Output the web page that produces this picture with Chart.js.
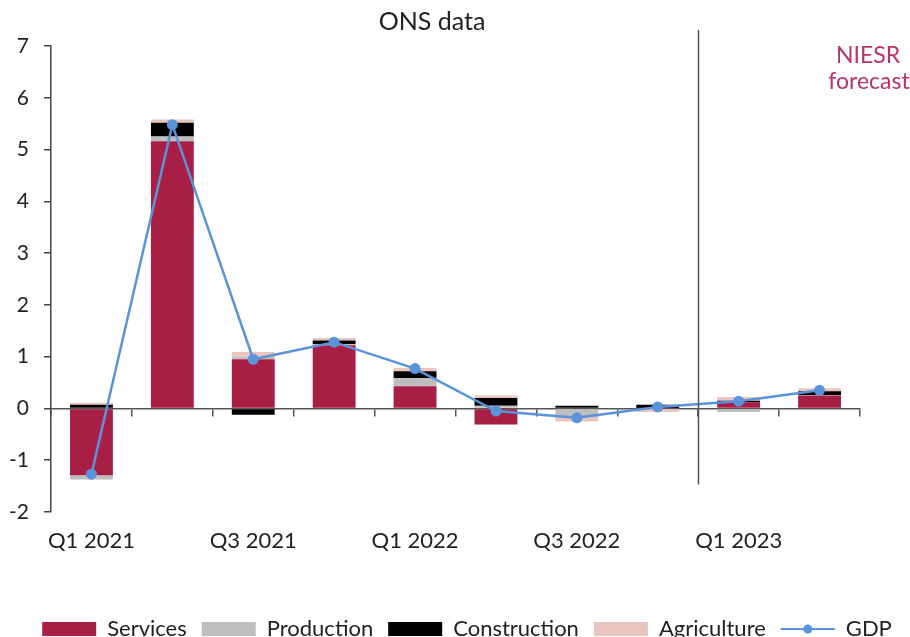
<!DOCTYPE html>
<html>
<head>
<meta charset="utf-8">
<script src="https://cdn.jsdelivr.net/npm/chart.js@4/dist/chart.umd.min.js"></script>
<style>
  html, body { margin: 0; padding: 0; background: #fff; overflow: hidden; }
  #wrap { width: 910px; height: 650px; }
</style>
</head>
<body>
<div id="wrap"><canvas id="canvas"></canvas></div>
<script>
// quarters on the x axis
const trimestres = ["Q1 2021", "Q2 2021", "Q3 2021", "Q4 2021", "Q1 2022", "Q2 2022", "Q3 2022", "Q4 2022", "Q1 2023", "Q2 2023"];
// contributions to growth (% points)
const services     = [-1.29, 5.16, 0.95, 1.22, 0.43, -0.31, 0.00, 0.01, 0.12, 0.25];
const production   = [-0.08, 0.09, 0.05, 0.02, 0.16, 0.05, -0.18, 0.00, -0.07, 0.01];
const construction = [0.07, 0.27, -0.12, 0.07, 0.13, 0.15, 0.05, 0.06, 0.03, 0.07];
const agriculture  = [0.04, 0.06, 0.09, 0.05, 0.06, 0.05, -0.07, -0.07, 0.07, 0.06];
const gdp          = [-1.27, 5.48, 0.95, 1.28, 0.77, -0.05, -0.18, 0.03, 0.14, 0.35];
const ticksY = [-2, 7];
const fuente = "Lato";

const colores = {
    services: "#A81F45",
    production: "#BEBEBE",
    construction: "#000000",
    agriculture: "#EAC5BF",
    gdp: "#5A93DA"
};

function barra(label, data, color){
    return {
        type: "bar",
        label: label,
        data: data,
        backgroundColor: color,
        borderWidth: 0,
        stack: "componentes",
        order: 1,
        barPercentage: 0.53,
        categoryPercentage: 1
    };
}

// vertical line + texts
const anotaciones = {
    id: "anotaciones",
    afterDatasetsDraw(chart){
        const ctx = chart.ctx;
        const x = chart.scales.x;
        const y = chart.scales.y;
        const xl = Math.round(x.getPixelForValue(7.5)) + 0.5;
        ctx.save();
        ctx.strokeStyle = "#555";
        ctx.lineWidth = 1.5;
        ctx.beginPath();
        ctx.moveTo(xl, y.getPixelForValue(7.31));
        ctx.lineTo(xl, y.getPixelForValue(-1.47));
        ctx.stroke();
        ctx.textAlign = "center";
        ctx.textBaseline = "middle";
        ctx.fillStyle = "#222";
        ctx.font = "25px " + fuente;
        ctx.fillText("ONS data", 432, 22);
        ctx.fillStyle = "#B8336A";
        ctx.font = "23px " + fuente;
        ctx.fillText("NIESR", 868, 56);
        ctx.fillText("forecast", 869, 82);
        ctx.restore();
    },
    afterDraw(chart){
        // dot on the GDP legend line
        const leg = chart.legend;
        if (!leg || !leg.legendHitBoxes) return;
        const i = leg.legendItems.findIndex(it => it.text === "GDP");
        if (i < 0) return;
        const hb = leg.legendHitBoxes[i];
        const ctx = chart.ctx;
        ctx.save();
        ctx.fillStyle = colores.gdp;
        ctx.beginPath();
        ctx.arc(hb.left + 27, hb.top + hb.height / 2, 4.5, 0, Math.PI * 2);
        ctx.fill();
        ctx.restore();
    }
};

let data = {};
data["labels"] = trimestres;
data["datasets"] = [
    barra("Services", services, colores.services),
    barra("Production", production, colores.production),
    barra("Construction", construction, colores.construction),
    barra("Agriculture", agriculture, colores.agriculture),
    {
        type: "line",
        label: "GDP",
        data: gdp,
        borderColor: colores.gdp,
        backgroundColor: colores.gdp,
        borderWidth: 2.5,
        pointRadius: 5.5,
        pointHoverRadius: 5.5,
        pointBackgroundColor: colores.gdp,
        pointBorderWidth: 0,
        tension: 0,
        stack: "gdp",
        order: 0
    }
];

let options = {
    responsive: true,
    maintainAspectRatio: false,
    animation: false,
    // negative right padding: centres the legend a bit right, like the original
    layout: { padding: { top: 46, left: 0, right: -24, bottom: 0 } },
    scales: {
        x: {
            stacked: true,
            position: "bottom",
            border: { display: false },
            grid: { display: false },
            ticks: {
                autoSkip: false,
                maxRotation: 0,
                padding: 8,
                color: "#222",
                font: { family: fuente, size: 22 },
                callback: function(v, i){ return i % 2 === 0 ? trimestres[i] : ""; }
            },
            afterFit: function(scale){ scale.height = 91; }
        },
        x2: {
            type: "category",
            position: { y: 0 },
            offset: true,
            border: { display: true, color: "#555", width: 1.5 },
            grid: { drawOnChartArea: false, drawTicks: true, tickLength: 7, color: "#555", lineWidth: 1.5, offset: true },
            ticks: { display: false }
        },
        y: {
            stacked: true,
            min: ticksY[0],
            max: ticksY[1],
            border: { display: true, color: "#444", width: 1.5 },
            grid: { drawOnChartArea: false, drawTicks: true, tickLength: 7, color: "#444", lineWidth: 1.5 },
            ticks: {
                stepSize: 1,
                padding: 15,
                color: "#222",
                font: { family: fuente, size: 21 }
            },
            afterFit: function(scale){ scale.width = 51; }
        },
        // empty space at the right of the plot (room for the forecast note)
        yDer: {
            type: "linear",
            position: "right",
            min: ticksY[0],
            max: ticksY[1],
            border: { display: false },
            grid: { display: false },
            ticks: { display: false },
            afterFit: function(scale){ scale.width = 74; }
        }
    },
    plugins: {
        title: { display: false },
        tooltip: { enabled: false },
        legend: {
            position: "bottom",
            labels: {
                usePointStyle: true,
                pointStyleWidth: 54,
                boxHeight: 14,
                padding: 15,
                color: "#222",
                font: { family: fuente, size: 22 },
                sort: (a, b) => a.datasetIndex - b.datasetIndex,
                generateLabels: function(chart){
                    const items = Chart.defaults.plugins.legend.labels.generateLabels(chart);
                    items.forEach(it => {
                        if (it.text === "GDP") {
                            it.pointStyle = "line";
                            it.lineWidth = 2;
                            it.strokeStyle = colores.gdp;
                        } else {
                            it.pointStyle = "rect";
                            it.lineWidth = 0;
                        }
                    });
                    return items;
                }
            }
        }
    }
};

new Chart(document.getElementById("canvas").getContext("2d"), {
    type: "bar",
    data: data,
    options: options,
    plugins: [anotaciones]
});
</script>
</body>
</html>
